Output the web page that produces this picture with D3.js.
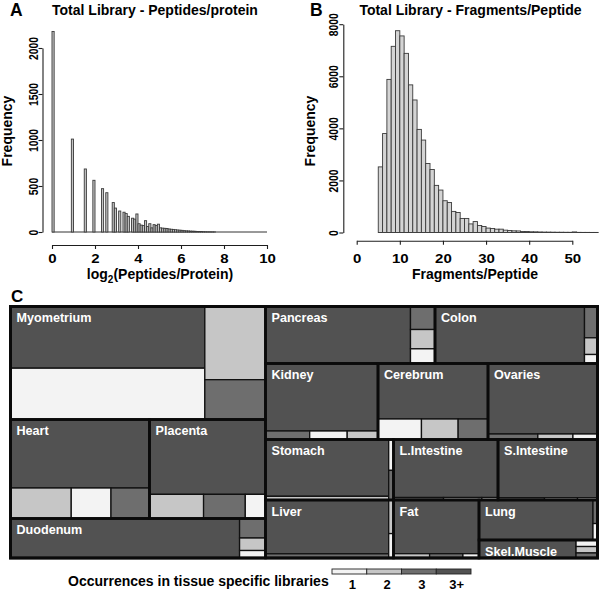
<!DOCTYPE html>
<html><head><meta charset="utf-8">
<script src="https://cdn.jsdelivr.net/npm/d3@7"></script>
<style>
html,body{margin:0;padding:0;background:#fff;}
svg{display:block;font-family:"Liberation Sans",Arial,sans-serif;font-weight:bold;}
</style></head><body>
<svg id="chart" width="600" height="591"></svg>
<script>
// ---------------- DATA ----------------
// Panel A: histogram of log2(peptides/protein), bins of width 0.1 from 0 to 10
const freqA = [
 2180,0,0,0,0,0,0,0,0,1010,
 0,0,0,0,0,685,0,0,0,562,
 0,0,0,471,0,427,0,0,320,260,
 0,228,0,215,200,170,0,150,140,196,
 90,75,70,123,60,90,45,80,70,85,
 45,42,40,38,33,30,28,25,22,20,
 18,15,13,12,10,9,8,6,5,5,
 4,3,2,2,1,1,0,0,0,0,
 0,0,0,0,0,0,0,0,0,0,
 0,0,0,0,0,0,0,0,0,0];
const breaksA = d3.range(0, 101).map(i => i / 10);
const xTicksA = [0, 2, 4, 6, 8, 10];
const yTicksA = [0, 500, 1000, 1500, 2000];

// Panel B: histogram of fragments/peptide, unit bins starting at 5
const binStartB = d3.range(5, 56);
const freqB = [
 2520,3800,5880,7150,7750,7550,6880,5670,5090,3960,
 3550,2650,2420,1810,1630,1220,1150,810,770,540,
 540,330,420,270,230,170,155,128,128,90,
 77,64,60,40,38,28,26,20,16,15,
 12,10,10,8,7,22,5,4,4,3,3];
const xTicksB = [0, 10, 20, 30, 40, 50];
const yTicksB = [0, 2000, 4000, 6000, 8000];

// Panel C: treemap of tissue specific libraries
const classes = ["1", "2", "3", "3+"];
const classColors = ["#f3f3f3", "#c6c6c6", "#6e6e6e", "#525252"];
const tissues = ["Myometrium","Heart","Placenta","Duodenum","Pancreas","Colon","Kidney","Cerebrum","Ovaries","Stomach","L.Intestine","S.Intestine","Liver","Fat","Lung","Skel.Muscle"];
const occ1  = [9970,1212,488,194,360,117,319,891,135,148,40,46,117,69,74,140];
const occ2  = [4440,1852,1306,324,473,217,262,752,193,455,95,76,161,155,0,138];
const occ3  = [2415,1174,1008,506,564,407,376,612,274,142,124,107,515,143,106,108];
const occ3p = [11990,9523,8682,9049,8265,8522,7594,6105,7720,6999,6063,5791,6631,4592,4560,1747];
const cellArrangement = ["grid","top","top","side","side","side","top","top","top","grid","top","top","grid","top","side","side"];
const tissueLayout = ["dice",
  ["slice", "Myometrium", ["dice", "Heart", "Placenta"], "Duodenum"],
  ["slice", ["dice", "Pancreas", "Colon"], ["dice", "Kidney", "Cerebrum", "Ovaries"],
            ["dice", "Stomach", "L.Intestine", "S.Intestine"],
            ["dice", "Liver", "Fat", ["slice", "Lung", "Skel.Muscle"]]]
];

// ---------------- DRAW ----------------
const svg = d3.select("#chart");
const ink = "#1e1e1e";

function styleAxis(g) {
  g.select(".domain").attr("stroke", ink).attr("stroke-width", 1.1);
  g.selectAll(".tick line").attr("stroke", ink).attr("stroke-width", 1.1);
  g.selectAll(".tick text").attr("fill", "#000").style("font-weight", "bold");
}

function histogram(cfg) {
  const g = svg.append("g");
  const x = d3.scaleLinear().domain(cfg.xDomain).range(cfg.xRange);
  const y = d3.scaleLinear().domain(cfg.yDomain).range(cfg.yRange);
  g.append("line")
    .attr("x1", x(cfg.bins[0].x0)).attr("x2", x(cfg.bins[cfg.bins.length - 1].x1))
    .attr("y1", y(0)).attr("y2", y(0))
    .attr("stroke", "#333").attr("stroke-width", 1);
  g.selectAll("rect.bar").data(cfg.bins.filter(d => d.v > 0)).join("rect")
    .attr("class", "bar")
    .attr("x", d => x(d.x0)).attr("width", d => x(d.x1) - x(d.x0))
    .attr("y", d => y(d.v)).attr("height", d => y(0) - y(d.v))
    .attr("fill", cfg.fill).attr("stroke", "#3a3a3a").attr("stroke-width", 0.9);
  const ax = g.append("g").attr("transform", `translate(0,${cfg.xAxisY})`)
    .call(d3.axisBottom(x).tickValues(cfg.xTicks).tickSize(4).tickSizeOuter(0).tickFormat(d3.format("d")));
  styleAxis(ax);
  ax.selectAll(".tick text").attr("y", cfg.xLabelBase - cfg.xAxisY).attr("dy", 0)
    .style("font-size", "12.5px").attr("transform", "scale(1.2,1)");
  const ay = g.append("g").attr("transform", `translate(${cfg.yAxisX},0)`)
    .call(d3.axisLeft(y).tickValues(cfg.yTicks).tickSize(4).tickSizeOuter(0).tickFormat(d3.format("d")));
  styleAxis(ay);
  ay.selectAll(".tick text").attr("x", 0).attr("y", -5).attr("dy", 0)
    .attr("text-anchor", "middle").style("font-size", "13px")
    .attr("transform", "rotate(-90) scale(0.8,1)");
  g.append("text").attr("transform", `translate(${cfg.freqX},131) rotate(-90)`)
    .attr("text-anchor", "middle").style("font-size", "14px").text("Frequency");
  g.append("text").attr("x", cfg.titleX).attr("y", 14.5).attr("text-anchor", "middle")
    .style("font-size", "14px").text(cfg.title);
  g.append("text").attr("x", cfg.letterX).attr("y", 16).style("font-size", "17.5px").text(cfg.letter);
  return {g, x, y};
}

// Panel A
const A = histogram({
  bins: freqA.map((v, i) => ({x0: breaksA[i], x1: breaksA[i + 1], v})),
  xDomain: [0, 10], xRange: [52, 267],
  yDomain: [0, 2000], yRange: [232, 48],
  xTicks: xTicksA, yTicks: yTicksA,
  xAxisY: 245, xLabelBase: 263, yAxisX: 42.5,
  fill: "#c4c4c4", freqX: 12, titleX: 155,
  title: "Total Library - Peptides/protein", letter: "A", letterX: 10
});
const tA = A.g.append("text").attr("x", 160).attr("y", 279).attr("text-anchor", "middle").style("font-size", "14px");
tA.append("tspan").text("log");
tA.append("tspan").text("2").style("font-size", "10px").attr("dy", 4);
tA.append("tspan").text("(Peptides/Protein)").attr("dy", -4);

// Panel B
const B = histogram({
  bins: freqB.map((v, i) => ({x0: binStartB[i], x1: binStartB[i] + 1, v})),
  xDomain: [0, 50], xRange: [356.7, 572.3],
  yDomain: [0, 8000], yRange: [232.5, 24.2],
  xTicks: xTicksB, yTicks: yTicksB,
  xAxisY: 240.7, xLabelBase: 263, yAxisX: 343.3,
  fill: "#d4d4d4", freqX: 315, titleX: 470.5,
  title: "Total Library - Fragments/Peptide", letter: "B", letterX: 310
});
B.g.append("text").attr("x", 475).attr("y", 279).attr("text-anchor", "middle")
  .style("font-size", "14px").text("Fragments/Peptide");

// Panel C treemap
function buildNode(spec) {
  if (typeof spec === "string") {
    const i = tissues.indexOf(spec);
    const counts = [occ1[i], occ2[i], occ3[i], occ3p[i]];
    const cells = classes.map((c, k) => ({cls: k, value: counts[k]}))
      .filter(d => d.value > 0).sort((a, b) => b.value - a.value);
    const arr = cellArrangement[i];
    if (arr === "top") return {tissue: spec, split: "slice", children: [cells[0], {split: "dice", children: cells.slice(1)}]};
    if (arr === "side") return {tissue: spec, split: "dice", children: [cells[0], {split: "slice", children: cells.slice(1)}]};
    return {tissue: spec, split: "dice", children: [{split: "slice", children: cells.slice(0, 2)}, {split: "slice", children: cells.slice(2)}]};
  }
  return {split: spec[0], children: spec.slice(1).map(buildNode)};
}
const TM = {x: 10.5, y: 306.5, w: 587, h: 251.5};
const root = d3.hierarchy(buildNode(tissueLayout)).sum(d => d.children ? 0 : d.value);
d3.treemap().size([TM.w, TM.h]).round(false)
  .tile((node, x0, y0, x1, y1) => (node.data.split === "slice" ? d3.treemapSlice : d3.treemapDice)(node, x0, y0, x1, y1))(root);

const gC = svg.append("g").attr("transform", `translate(${TM.x},${TM.y})`);
gC.selectAll("rect.cell").data(root.leaves()).join("rect")
  .attr("class", "cell")
  .attr("x", d => d.x0).attr("y", d => d.y0)
  .attr("width", d => d.x1 - d.x0).attr("height", d => d.y1 - d.y0)
  .attr("fill", d => classColors[d.data.cls])
  .attr("stroke", "#111").attr("stroke-width", 1.3);
const tnodes = root.descendants().filter(d => d.data.tissue);
gC.selectAll("rect.tissue").data(tnodes).join("rect")
  .attr("class", "tissue")
  .attr("x", d => d.x0).attr("y", d => d.y0)
  .attr("width", d => d.x1 - d.x0).attr("height", d => d.y1 - d.y0)
  .attr("fill", "none").attr("stroke", "#0a0a0a").attr("stroke-width", 2.6);
gC.append("rect").attr("width", TM.w).attr("height", TM.h)
  .attr("fill", "none").attr("stroke", "#0a0a0a").attr("stroke-width", 3);
gC.selectAll("text.tlabel").data(tnodes).join("text")
  .attr("class", "tlabel")
  .attr("x", d => d.x0 + 6).attr("y", d => d.y0 + 15.5)
  .attr("fill", "#fff").style("font-size", "12.6px").text(d => d.data.tissue);
svg.append("text").attr("x", 11).attr("y", 302).style("font-size", "17px").text("C");

// Legend
svg.append("text").attr("x", 68).attr("y", 586).style("font-size", "14px")
  .text("Occurrences in tissue specific libraries");
const lx = d3.scaleBand().domain(classes).range([332, 471]);
const gL = svg.append("g");
gL.selectAll("rect").data(classes).join("rect")
  .attr("x", d => lx(d)).attr("y", 569).attr("width", lx.bandwidth()).attr("height", 5)
  .attr("fill", (d, i) => classColors[i]).attr("stroke", "#222").attr("stroke-width", 0.9);
gL.selectAll("text").data(classes).join("text")
  .attr("x", d => lx(d) + lx.bandwidth() / 2 + 3).attr("y", 589)
  .attr("text-anchor", "middle").style("font-size", "13px").text(d => d);
</script></body></html>
